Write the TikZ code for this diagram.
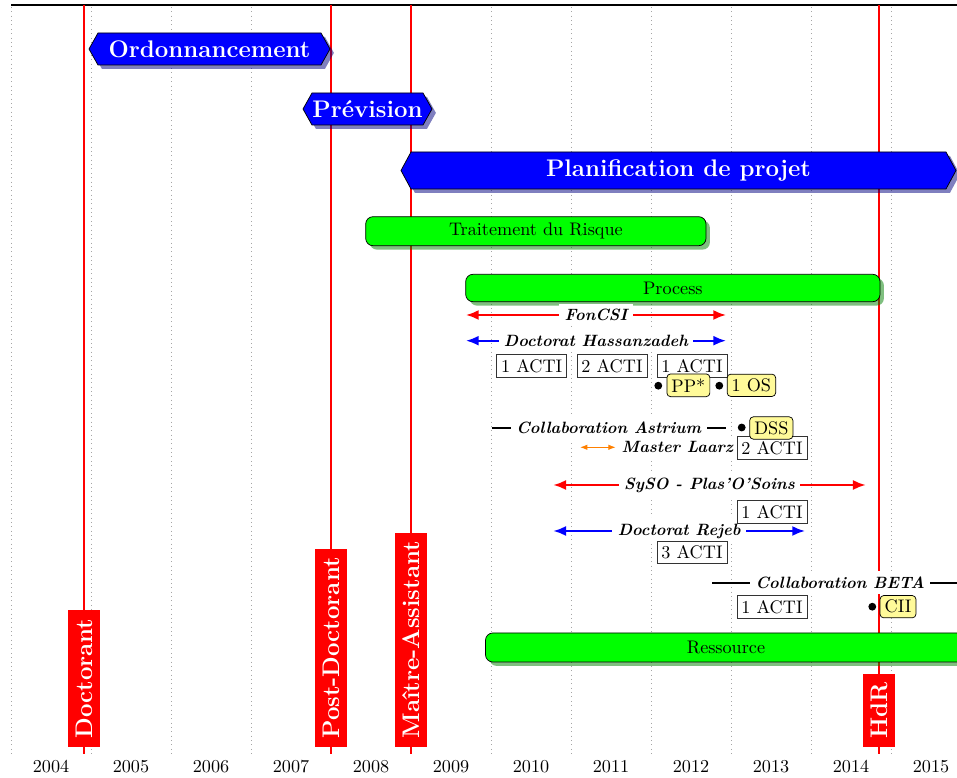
\documentclass[tikz,border=0pt]{standalone}
\usetikzlibrary{shadows,arrows.meta}
\newcommand\bighead{\fontsize{13.2}{16}\selectfont\bfseries}
\begin{document}
\begin{tikzpicture}[x=0.55pt,y=-0.55pt]
\tikzset{every node/.style={inner sep=2.5pt},
  gridline/.style={gray!70,dotted},
  jalon/.style={draw=red,line width=.6pt},
  poste/.style={fill=red,text=white,rotate=90,anchor=west,font=\bighead,inner xsep=4.5pt,minimum height=18pt},
  groupe/.style={fill=blue,draw=black,drop shadow={fill=blue!50!black,opacity=.5}},
  grouptxt/.style={text=white,font=\bighead},
  theme/.style={fill=green,draw=black,rounded corners=4pt,drop shadow={fill=green!50!black,opacity=.5}},
  projet/.style={line width=1.1pt,{Latex[length=7pt,width=5.5pt]}-{Latex[length=7pt,width=5.5pt]}},
  collab/.style={line width=1.1pt},
  projtxt/.style={fill=white,text=black,font=\small\bfseries\itshape,inner sep=3pt},
  acti/.style={draw=black!80,fill=white},
  pub/.style={draw=black,fill=yellow!40,rounded corners=2pt},
  puce/.style={circle,fill=black,inner sep=0,minimum size=4.3pt}}
    \useasboundingbox (0,0) rectangle (957,778);
    \clip (0,0) rectangle (957,778);

    % annees
    \foreach \i in {0,...,11} \draw[gridline] (11+80*\i,7) -- (11+80*\i,754);
    \foreach \a [count=\i from 0] in {2004,...,2015} \node (an\a) at (51+80*\i,767) {\a};
    \draw[line width=1pt] (11,5) -- (957,5);

    % postes
    \node[poste] (doct) at (84,747) {Doctorant};
    \node[poste] (postdoc) at (331,747) {Post-Doctorant};
    \node[poste] (ma) at (411,747) {Maître-Assistant};
    \node[poste] (hdr) at (879,747) {HdR};
    \coordinate (hdrtop) at (879,5);
    \coordinate (matop) at (411,5);
    \coordinate (pdtop) at (331,5);
    \coordinate (doctop) at (84,5);
    \draw[jalon] (hdrtop) -- (hdr.east);
    \draw[jalon] (matop) -- (ma.east);
    \draw[jalon] (pdtop) -- (postdoc.east);
    \draw[jalon] (doctop) -- (doct.east);
    \draw[jalon] (84,747) -- (84,754) (331,747) -- (331,754) (411,747) -- (411,754) (879,747) -- (879,754);

    % axes
    \draw[groupe] (89,49) -- (98,33) -- (321,33) -- (330,49) -- (321,65) -- (98,65) -- cycle;
    \node[grouptxt] (ordo) at (209.5,49) {Ordonnancement};
    \draw[groupe] (303,109) -- (312,93) -- (423,93) -- (432,109) -- (423,125) -- (312,125) -- cycle;
    \node[grouptxt] (prev) at (367.5,109) {Prévision};
    \draw[groupe] (401,170.5) -- (411,152) -- (946,152) -- (956,170.5) -- (946,189) -- (411,189) -- cycle;
    \node[grouptxt] (plan) at (678.5,170.5) {Planification de projet};

    \draw[theme] (365.7,216.7) rectangle (706,245.7);
    \node (risque) at (535.9,231.2) {Traitement du Risque};
    \draw[theme] (465.7,274.3) rectangle (880,301.7);
    \node (process) at (672.8,288) {Process};
    \draw[theme] (485.5,633) rectangle (966.5,662);
    \node (ressource) at (726,647.5) {Ressource};

    % projets
    \coordinate (fonA) at (466,315); \coordinate (fonB) at (726,315);
    \draw[projet,red] (fonA) -- node[projtxt] (fon) {FonCSI} (fonB);
    \coordinate (hasA) at (466,340.7); \coordinate (hasB) at (726,340.7);
    \draw[projet,blue] (hasA) -- node[projtxt] (has) {Doctorat Hassanzadeh} (hasB);
    \coordinate (astA) at (491.7,428.3); \coordinate (astB) at (725.7,428.3);
    \draw[collab] (astA) -- node[projtxt] (ast) {Collaboration Astrium} (astB);
    \coordinate (laaA) at (580,447.3); \coordinate (laaB) at (615.7,447.3);
    \draw[orange,line width=.6pt,{Latex[length=4pt,width=3pt]}-{Latex[length=4pt,width=3pt]}] (laaA) -- (laaB) node[projtxt,right] (laarz) {Master Laarz};
    \coordinate (sysA) at (553.3,485); \coordinate (sysB) at (865.7,485);
    \draw[projet,red] (sysA) -- node[projtxt] (syso) {SySO - Plas'O'Soins} (sysB);
    \coordinate (rejA) at (553.3,531); \coordinate (rejB) at (805,531);
    \draw[projet,blue] (rejA) -- node[projtxt] (rejeb) {Doctorat Rejeb} (rejB);
    \coordinate (betA) at (712.3,582.7); \coordinate (betB) at (968,582.7);
    \draw[collab] (betA) -- node[projtxt] (beta) {Collaboration BETA} (betB);

    % publications
    \node[acti] (acti1) at (531.7,365.7) {1 ACTI};
    \node[acti] (acti2) at (612,365.7) {2 ACTI};
    \node[acti] (acti3) at (692,365.7) {1 ACTI};
    \node[acti] (acti4) at (772,448) {2 ACTI};
    \node[acti] (acti5) at (772,512) {1 ACTI};
    \node[acti] (acti6) at (692,552.3) {3 ACTI};
    \node[acti] (acti7) at (772,606.7) {1 ACTI};

    \node[puce] (pt1) at (658.3,385.7) {};
    \node[pub] (pp) at (688.4,385.3) {PP*};
    \node[puce] (pt2) at (719.3,385.7) {};
    \node[pub] (os) at (751.4,385.3) {1 OS};
    \node[puce] (pt3) at (741.7,427.5) {};
    \node[pub] (dss) at (771.3,428) {DSS};
    \node[puce] (pt4) at (872.3,606.7) {};
    \node[pub] (cii) at (898,606.7) {CII};
\end{tikzpicture}
\end{document}
